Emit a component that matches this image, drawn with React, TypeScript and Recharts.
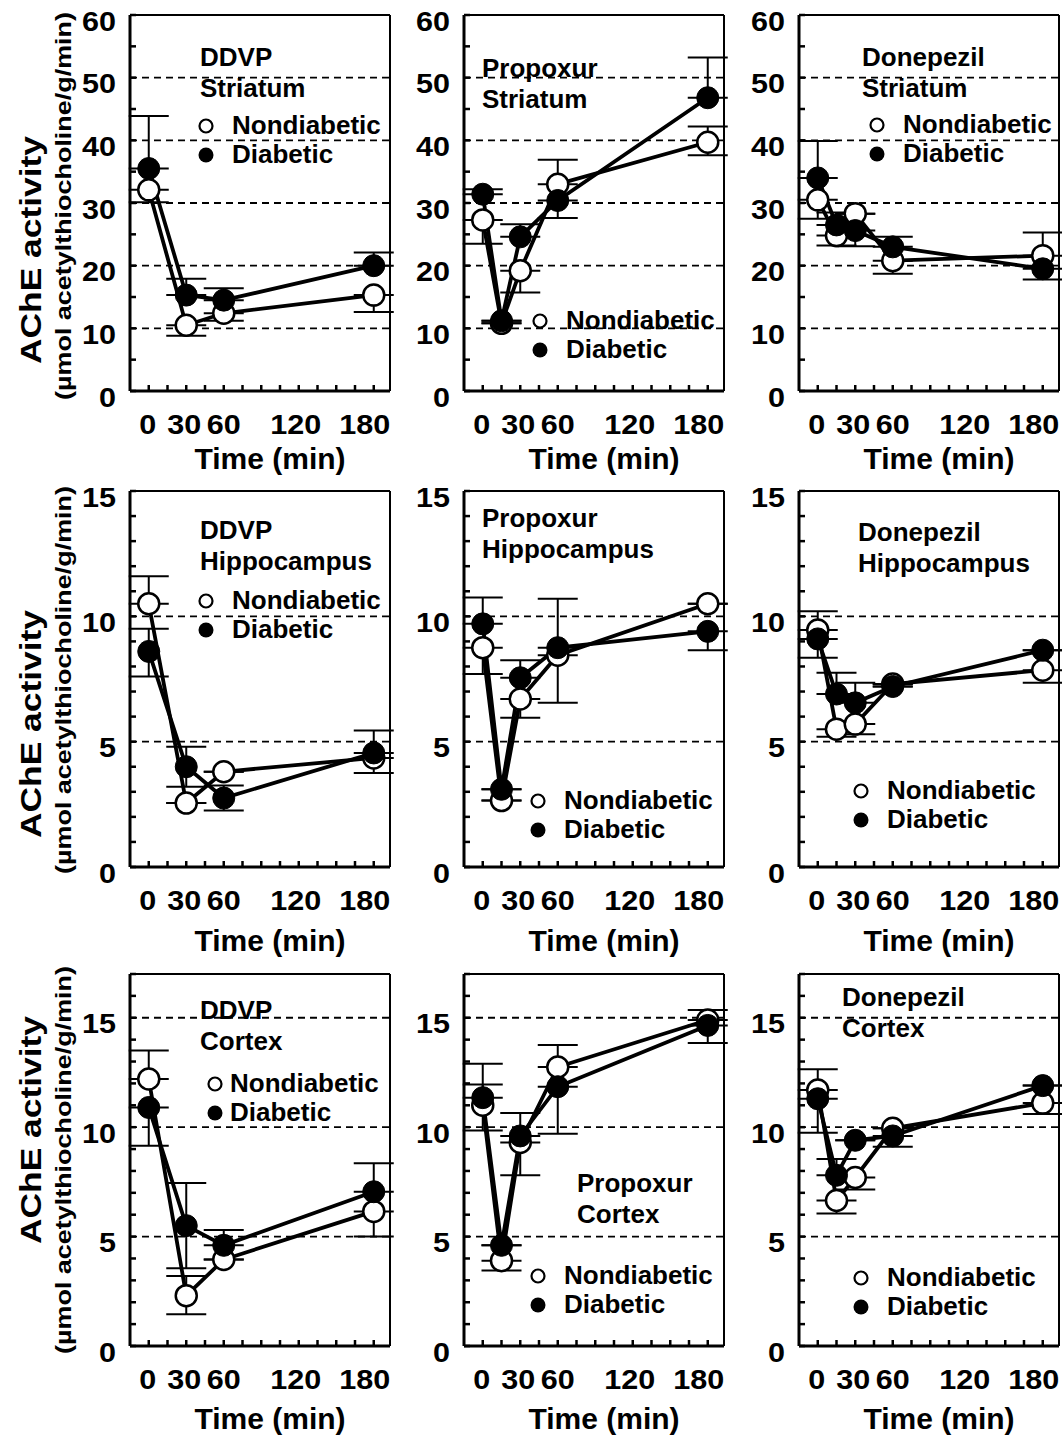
import React from 'react';
import { LineChart, Line, XAxis, YAxis, ErrorBar, ReferenceLine } from 'recharts';

const FONT = '"Liberation Sans", Arial, Helvetica, sans-serif';

// sampling times (min)
const ddvpTimes = [0, 30, 60, 180];
const drugTimes = [0, 15, 30, 60, 180];

// AChE activity values; errors are [down, up]
const ddvpStriatumNon = [32.1, 10.5, 12.4, 15.3];
const ddvpStriatumNonErr = [[2.0, 0], [1.7, 0], [1.2, 0], [2.7, 0]];
const ddvpStriatumDia = [35.5, 15.3, 14.5, 20.0];
const ddvpStriatumDiaErr = [[0, 8.4], [0, 2.6], [0, 1.9], [0, 2.1]];

const propStriatumNon = [27.3, 10.8, 19.2, 33.0, 39.7];
const propStriatumNonErr = [[3.8, 0], [0, 0], [3.5, 0], [0, 3.9], [2.1, 2.5]];
const propStriatumDia = [31.4, 11.2, 24.6, 30.4, 46.8];
const propStriatumDiaErr = [[0, 0.8], [0, 0], [0, 2.0], [2.8, 0], [0, 6.4]];

const donStriatumNon = [30.5, 24.8, 28.3, 20.8, 21.6];
const donStriatumNonErr = [[3.0, 0], [1.6, 0], [0, 0], [2.1, 0], [0, 3.7]];
const donStriatumDia = [34.0, 26.5, 25.6, 23.0, 19.5];
const donStriatumDiaErr = [[0, 5.9], [0, 2.0], [2.5, 0], [0, 1.6], [1.7, 0]];

const ddvpHippoNon = [10.5, 2.55, 3.8, 4.35];
const ddvpHippoNonErr = [[0, 1.1], [0, 0], [0, 0], [0.6, 0]];
const ddvpHippoDia = [8.6, 4.0, 2.75, 4.55];
const ddvpHippoDiaErr = [[1.0, 0.9], [0.8, 0.8], [0.5, 0.5], [0, 0.9]];

const propHippoNon = [8.75, 2.65, 6.7, 8.45, 10.5];
const propHippoNonErr = [[1.05, 0], [0, 0], [0.75, 0], [1.9, 0], [0, 0]];
const propHippoDia = [9.7, 3.1, 7.55, 8.75, 9.4];
const propHippoDiaErr = [[0, 1.05], [0, 0], [0, 0.7], [0, 1.95], [0.75, 0]];

const donHippoNon = [9.45, 5.5, 5.7, 7.3, 7.85];
const donHippoNonErr = [[0, 0.75], [0.3, 0], [0.4, 0], [0, 0], [0.5, 0]];
const donHippoDia = [9.1, 6.9, 6.55, 7.2, 8.65];
const donHippoDiaErr = [[0.75, 0], [0, 0.85], [0, 0.8], [0, 0], [0, 0]];

const ddvpCortexNon = [12.2, 2.3, 3.95, 6.15];
const ddvpCortexNonErr = [[0, 1.3], [0.85, 0.9], [0, 0], [1.15, 0]];
const ddvpCortexDia = [10.9, 5.5, 4.6, 7.05];
const ddvpCortexDiaErr = [[1.75, 0], [1.95, 1.95], [0, 0.7], [0, 1.3]];

const propCortexNon = [11.0, 3.9, 9.3, 12.75, 14.9];
const propCortexNonErr = [[1.15, 0.95], [0.45, 0], [1.5, 0], [0, 1.0], [0, 0.45]];
const propCortexDia = [11.35, 4.6, 9.6, 11.85, 14.65];
const propCortexDiaErr = [[0, 1.55], [0, 0], [0, 1.05], [2.15, 0], [0.8, 0]];

const donCortexNon = [11.7, 6.65, 7.7, 9.95, 11.1];
const donCortexNonErr = [[0, 0.95], [0.6, 0], [0.55, 0], [0, 0], [0.5, 0]];
const donCortexDia = [11.3, 7.8, 9.4, 9.6, 11.9];
const donCortexDiaErr = [[1.55, 0], [0, 0.75], [0, 0], [0.5, 0], [0, 0]];

// axis ticks
const xTicks = [0, 15, 30, 45, 60, 75, 90, 105, 120, 135, 150, 165, 180];
const xLabels = [0, 30, 60, 120, 180];
const row1Ticks = [0, 5, 10, 15, 20, 25, 30, 35, 40, 45, 50, 55, 60];
const row1Labels = [0, 10, 20, 30, 40, 50, 60];
const row1Grid = [10, 20, 30, 40, 50];
const row2Ticks = [0, 1, 2, 3, 4, 5, 6, 7, 8, 9, 10, 11, 12, 13, 14, 15];
const row2Labels = [0, 5, 10, 15];
const row2Grid = [5, 10];
const row3Ticks = [0, 1, 2, 3, 4, 5, 6, 7, 8, 9, 10, 11, 12, 13, 14, 15, 16, 17];
const row3Labels = [0, 5, 10, 15];
const row3Grid = [5, 10, 15];

const X_DOMAIN = [-15, 193];
const BOX_W = 260;
const colLeft = [130, 464, 799];
const L = 90, T = 12, R = 30, B = 60;
// the printed x labels sit a little left of their ticks
const xLabelShift: Record<number, number> = { 0: -1, 30: -2, 60: 0, 120: -3, 180: -9 };

const rows = [
  { domain: [0, 60], ticks: row1Ticks, labels: row1Labels, grid: row1Grid, top: 15, height: 376, timeY: 458, achY: 250, unitY: 206 },
  { domain: [0, 15], ticks: row2Ticks, labels: row2Labels, grid: row2Grid, top: 491, height: 376, timeY: 940, achY: 724, unitY: 680 },
  { domain: [0, 17], ticks: row3Ticks, labels: row3Labels, grid: row3Grid, top: 974, height: 372, timeY: 1418, achY: 1130, unitY: 1160 },
];

const panels = [
  { title: ['DDVP', 'Striatum'], times: ddvpTimes, non: ddvpStriatumNon, nonErr: ddvpStriatumNonErr, dia: ddvpStriatumDia, diaErr: ddvpStriatumDiaErr,
    tpos: [200, 57], lpos: [206, 126] },
  { title: ['Propoxur', 'Striatum'], times: drugTimes, non: propStriatumNon, nonErr: propStriatumNonErr, dia: propStriatumDia, diaErr: propStriatumDiaErr,
    tpos: [482, 68], lpos: [540, 321] },
  { title: ['Donepezil', 'Striatum'], times: drugTimes, non: donStriatumNon, nonErr: donStriatumNonErr, dia: donStriatumDia, diaErr: donStriatumDiaErr,
    tpos: [862, 57], lpos: [877, 125] },
  { title: ['DDVP', 'Hippocampus'], times: ddvpTimes, non: ddvpHippoNon, nonErr: ddvpHippoNonErr, dia: ddvpHippoDia, diaErr: ddvpHippoDiaErr,
    tpos: [200, 530], lpos: [206, 601] },
  { title: ['Propoxur', 'Hippocampus'], times: drugTimes, non: propHippoNon, nonErr: propHippoNonErr, dia: propHippoDia, diaErr: propHippoDiaErr,
    tpos: [482, 518], lpos: [538, 801] },
  { title: ['Donepezil', 'Hippocampus'], times: drugTimes, non: donHippoNon, nonErr: donHippoNonErr, dia: donHippoDia, diaErr: donHippoDiaErr,
    tpos: [858, 532], lpos: [861, 791] },
  { title: ['DDVP', 'Cortex'], times: ddvpTimes, non: ddvpCortexNon, nonErr: ddvpCortexNonErr, dia: ddvpCortexDia, diaErr: ddvpCortexDiaErr,
    tpos: [200, 1010], lpos: [215, 1084], tight: true },
  { title: ['Propoxur', 'Cortex'], times: drugTimes, non: propCortexNon, nonErr: propCortexNonErr, dia: propCortexDia, diaErr: propCortexDiaErr,
    tpos: [577, 1183], lpos: [538, 1276] },
  { title: ['Donepezil', 'Cortex'], times: drugTimes, non: donCortexNon, nonErr: donCortexNonErr, dia: donCortexDia, diaErr: donCortexDiaErr,
    tpos: [842, 997], lpos: [861, 1278] },
];

const txt = { fontFamily: FONT, fontWeight: 700, fill: '#000' };
const DIGIT_W = 17;

const makeYTick = (labels: number[]) => (props: any) => {
  const { x, y, payload } = props;
  const s = String(payload.value);
  return (
    <g>
      <line x1={x} y1={y} x2={x + 6} y2={y} stroke="#000" strokeWidth={2.5} />
      {labels.includes(payload.value) && (
        <text x={x - 14} y={y + 6} textAnchor="end" dominantBaseline="central" fontSize={28}
          textLength={s.length * DIGIT_W} lengthAdjust="spacingAndGlyphs" {...txt}>
          {s}
        </text>
      )}
    </g>
  );
};

const renderXTick = (props: any) => {
  const { x, y, payload } = props;
  const s = String(payload.value);
  return (
    <g>
      <line x1={x} y1={y} x2={x} y2={y - 6} stroke="#000" strokeWidth={2.5} />
      {xLabels.includes(payload.value) && (
        <text x={x + (xLabelShift[payload.value] || 0)} y={y + 33} textAnchor="middle" dominantBaseline="central" fontSize={28}
          textLength={s.length * DIGIT_W} lengthAdjust="spacingAndGlyphs" {...txt}>
          {s}
        </text>
      )}
    </g>
  );
};

const Panel = ({ p, row, col }: any) => {
  const data = p.times.map((t: number, i: number) => ({
    t,
    non: p.non[i],
    nonErr: p.nonErr[i],
    dia: p.dia[i],
    diaErr: p.diaErr[i],
  }));
  return (
    <div style={{ position: 'absolute', left: colLeft[col] - L, top: row.top - T }}>
      <LineChart width={BOX_W + L + R} height={row.height + T + B} data={data} margin={{ top: T, right: R, left: 0, bottom: 0 }}>
        <XAxis type="number" dataKey="t" domain={X_DOMAIN} ticks={xTicks} interval={0} height={B}
          tickSize={0} tickMargin={0} tickLine={false} axisLine={{ stroke: '#000', strokeWidth: 3 }} tick={renderXTick} allowDataOverflow />
        <YAxis type="number" domain={row.domain} ticks={row.ticks} interval={0} width={L}
          tickSize={0} tickMargin={0} tickLine={false} axisLine={{ stroke: '#000', strokeWidth: 3 }} tick={makeYTick(row.labels)} allowDataOverflow />
        {row.grid.map((g: number) => (
          <ReferenceLine key={g} y={g} stroke="#000" strokeWidth={1.8} strokeDasharray="7 5" />
        ))}
        <ReferenceLine y={row.domain[1]} stroke="#000" strokeWidth={2} />
        <ReferenceLine x={X_DOMAIN[1]} stroke="#000" strokeWidth={2} />
        <Line type="linear" dataKey="non" stroke="#000" strokeWidth={3.8} isAnimationActive={false} activeDot={false}
          dot={{ r: 10.5, fill: '#fff', stroke: '#000', strokeWidth: 2.5 }}>
          <ErrorBar dataKey="nonErr" direction="y" width={20} stroke="#000" strokeWidth={2} />
        </Line>
        <Line type="linear" dataKey="dia" stroke="#000" strokeWidth={3.8} isAnimationActive={false} activeDot={false}
          dot={{ r: 11, fill: '#000', stroke: '#000', strokeWidth: 1 }}>
          <ErrorBar dataKey="diaErr" direction="y" width={20} stroke="#000" strokeWidth={2} />
        </Line>
      </LineChart>
    </div>
  );
};

const App: React.FC = () => {
  return (
    <div style={{ position: 'absolute', left: 0, top: 0, width: 1062, height: 1436, background: '#fff', overflow: 'hidden' }}>
      {panels.map((p, i) => (
        <Panel key={i} p={p} row={rows[Math.floor(i / 3)]} col={i % 3} />
      ))}
      <svg width={1062} height={1436} style={{ position: 'absolute', left: 0, top: 0, pointerEvents: 'none' }}>
        {rows.map((row, r) => (
          <g key={`r${r}`}>
            <text transform={`translate(30 ${row.achY}) rotate(-90)`} textAnchor="middle" dominantBaseline="central"
              fontSize={30} textLength={228} lengthAdjust="spacingAndGlyphs" {...txt}>AChE activity</text>
            <text transform={`translate(63 ${row.unitY}) rotate(-90)`} textAnchor="middle" dominantBaseline="central"
              fontSize={22} textLength={388} lengthAdjust="spacingAndGlyphs" {...txt}>(µmol acetylthiocholine/g/min)</text>
            {colLeft.map((cl, c) => (
              <text key={c} x={cl + BOX_W / 2 + 10} y={row.timeY} textAnchor="middle" dominantBaseline="central" fontSize={30} {...txt}>
                Time (min)
              </text>
            ))}
          </g>
        ))}
        {panels.map((p, i) => {
          const [tx, ty] = p.tpos;
          const [lx, ly] = p.lpos;
          const gap = p.tight ? 15 : 26;
          return (
            <g key={`p${i}`}>
              <text x={tx} y={ty} dominantBaseline="central" fontSize={26} {...txt}>{p.title[0]}</text>
              <text x={tx} y={ty + 31} dominantBaseline="central" fontSize={26} {...txt}>{p.title[1]}</text>
              <circle cx={lx} cy={ly} r={6.5} fill="#fff" stroke="#000" strokeWidth={2.2} />
              <text x={lx + gap} y={ly - 1} dominantBaseline="central" fontSize={26} {...txt}>Nondiabetic</text>
              <circle cx={lx} cy={ly + 29} r={7.5} fill="#000" />
              <text x={lx + gap} y={ly + 28} dominantBaseline="central" fontSize={26} {...txt}>Diabetic</text>
            </g>
          );
        })}
      </svg>
    </div>
  );
};

export default App;
